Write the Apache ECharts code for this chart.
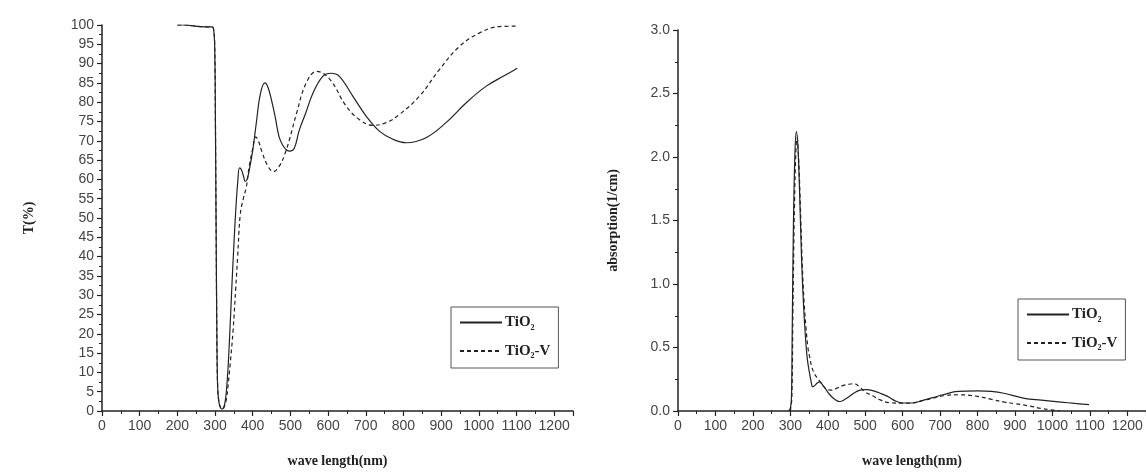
<!DOCTYPE html>
<html>
<head>
<meta charset="utf-8">
<script src="https://cdn.jsdelivr.net/npm/echarts@6/dist/echarts.min.js"></script>
<style>html,body{margin:0;padding:0;background:#fff}#c{width:1146px;height:473px}</style>
</head>
<body>
<div id="c"></div>
<script>
// ---- Left chart: transmittance T(%) ----
const tWlTiO2 = [200,220,240,260,280,292,296,299,301,303,305,307,310,314,318,322,326,330,335,340,345,350,355,360,365,370,375,380,385,390,400,410,420,432,440,450,460,470,480,490,498,510,524,540,560,586,608,630,666,701,736,772,807,860,913,966,1019,1072,1102];
const tValTiO2 = [100,100,99.8,99.6,99.5,99.5,99,95,75,45,18,6,2.5,1,0.5,0.8,2,5,12,22,33,43,52,59,63,62.5,61,59.5,60,62,67.5,75,82,85,84,80.5,76,71,68.8,67.6,67.3,68,72.9,77,82.4,86.7,87.5,86.7,81.5,76.4,72.5,70.4,69.5,70.8,74.7,79.8,84.1,87.1,88.8];
const tWlTiO2V = [200,220,240,260,280,292,296,299,301,303,305,307,310,314,318,322,326,330,335,340,348,355,360,367,375,383,390,400,408,415,425,440,455,471,485,498,516,542,570,604,648,683,719,754,789,842,895,948,1001,1054,1102];
const tValTiO2V = [100,100,99.8,99.6,99.5,99.5,99,95,75,45,18,6,2.5,1,0.5,0.6,1.5,3,7,12,21,32,40,51,55,58,63,68,71,70,67,63.5,62,63.5,66.5,70.5,77,85,88,86,79,75.5,74,74.7,76.8,81.5,88.4,94.4,97.9,99.6,99.7];

// ---- Right chart: absorption (1/cm) ----
const aWlTiO2 = [295,300,303,305,308,312,316,320,325,330,335,340,345,350,355,360,365,372,378,385,395,405,415,425,432,445,460,475,490,505,520,540,560,580,600,625,650,680,710,748,800,837,870,925,970,1023,1060,1098];
const aValTiO2 = [0,0.02,0.1,0.6,1.4,2.0,2.2,2.1,1.7,1.2,0.85,0.6,0.42,0.32,0.24,0.19,0.2,0.22,0.23,0.21,0.17,0.13,0.1,0.08,0.075,0.09,0.12,0.15,0.167,0.168,0.16,0.14,0.115,0.08,0.063,0.063,0.08,0.105,0.13,0.154,0.158,0.154,0.14,0.1,0.085,0.07,0.06,0.05];
const aWlTiO2V = [300,304,307,311,315,318,322,327,332,337,342,347,352,358,365,372,380,390,400,410,425,440,455,470,485,500,520,540,565,600,625,650,680,710,748,801,840,872,900,943,970,996,1020];
const aValTiO2V = [0,0.1,0.8,1.6,2.05,2.15,2.0,1.6,1.15,0.85,0.65,0.5,0.42,0.34,0.29,0.26,0.23,0.19,0.167,0.165,0.18,0.2,0.21,0.215,0.19,0.15,0.12,0.088,0.065,0.062,0.063,0.08,0.1,0.12,0.128,0.115,0.09,0.07,0.058,0.037,0.02,0.01,0];

const seriesNames = ['TiO2', 'TiO2-V'];
const tTicks = { min: 0, max: 100, interval: 5 };
const aTicks = { min: 0, max: 3, interval: 0.5 };
const xTicks = { min: 0, max: 1250, interval: 100 };

function pairs(xs, ys) { return xs.map((x, i) => [x, ys[i]]); }

const serif = '"Liberation Serif","DejaVu Serif",serif';
const sans = '"Liberation Sans",Arial,sans-serif';
const axisCol = '#222';
const labelCol = '#444';

function xAxis(gridIndex) {
  return {
    type: 'value', gridIndex, min: xTicks.min, max: xTicks.max, interval: xTicks.interval,
    name: 'wave length(nm)', nameLocation: 'middle', nameGap: 43,
    nameTextStyle: { fontFamily: serif, fontWeight: 'bold', fontSize: 14, color: '#222' },
    axisLine: { show: true, onZero: false, lineStyle: { color: axisCol, width: 1.5 } },
    axisTick: { show: true, inside: false, length: 5, lineStyle: { color: axisCol, width: 1.2 } },
    minorTick: { show: true, splitNumber: 2, length: 3, lineStyle: { color: axisCol, width: 1 } },
    axisLabel: { showMaxLabel: false, color: labelCol, fontFamily: sans, fontSize: 14, margin: 8, formatter: v => String(v) },
    splitLine: { show: false }
  };
}

function yAxis(gridIndex, t, name, gap, fmt) {
  return {
    type: 'value', gridIndex, min: t.min, max: t.max, interval: t.interval,
    name, nameLocation: 'middle', nameGap: gap, nameRotate: 90,
    nameTextStyle: { fontFamily: serif, fontWeight: 'bold', fontSize: 14, color: '#222' },
    axisLine: { show: true, lineStyle: { color: axisCol, width: 1.5 } },
    axisTick: { show: true, inside: false, length: 5, lineStyle: { color: axisCol, width: 1.2 } },
    minorTick: { show: true, splitNumber: 2, length: 3, lineStyle: { color: axisCol, width: 1 } },
    axisLabel: { color: labelCol, fontFamily: sans, fontSize: 14, margin: 8, formatter: fmt },
    splitLine: { show: false }
  };
}

function legendFmt(name) {
  return name === 'TiO2' ? '{a|TiO}{s|2}' : '{a|TiO}{s|2}{a|-V}';
}
const legendRich = {
  a: { fontFamily: serif, fontWeight: 'bold', fontSize: 15, color: '#222', lineHeight: 18 },
  s: { fontFamily: serif, fontWeight: 'bold', fontSize: 8, color: '#222', lineHeight: 18, verticalAlign: 'bottom', padding: [8, 0, 0, 0] }
};
function legend(left, top) {
  return {
    data: seriesNames, orient: 'vertical', left, top,
    itemWidth: 42, itemHeight: 12, itemGap: 12,
    padding: [8, 8, 8, 8],
    borderColor: '#555', borderWidth: 1,
    itemStyle: { opacity: 0 },
    formatter: legendFmt,
    textStyle: { rich: legendRich, padding: [0, 0, 0, -2] }
  };
}

function lineSeries(name, xi, data, dashed) {
  return {
    name, type: 'line', xAxisIndex: xi, yAxisIndex: xi, data,
    showSymbol: false, symbol: 'none', smooth: 0.4,
    lineStyle: { color: '#222', width: 1.2, type: dashed ? [4, 3] : 'solid' },
    itemStyle: { color: '#222' },
    z: dashed ? 3 : 2
  };
}

const chart = echarts.init(document.getElementById('c'), null, { renderer: 'canvas' });
chart.setOption({
  backgroundColor: '#ffffff',
  animation: false,
  grid: [
    { left: 102, top: 25, width: 471, height: 388 },
    { left: 678, top: 30, width: 470, height: 383 }
  ],
  xAxis: [xAxis(0), xAxis(1)],
  yAxis: [
    yAxis(0, tTicks, 'T(%)', 66, v => String(v)),
    yAxis(1, aTicks, 'absorption(1/cm)', 58, v => v.toFixed(1))
  ],
  legend: [legend(451, 307), legend(1018, 299)],
  series: [
    lineSeries(seriesNames[0], 0, pairs(tWlTiO2, tValTiO2), false),
    lineSeries(seriesNames[1], 0, pairs(tWlTiO2V, tValTiO2V), true),
    lineSeries(seriesNames[0], 1, pairs(aWlTiO2, aValTiO2), false),
    lineSeries(seriesNames[1], 1, pairs(aWlTiO2V, aValTiO2V), true)
  ]
});
</script>
</body>
</html>
